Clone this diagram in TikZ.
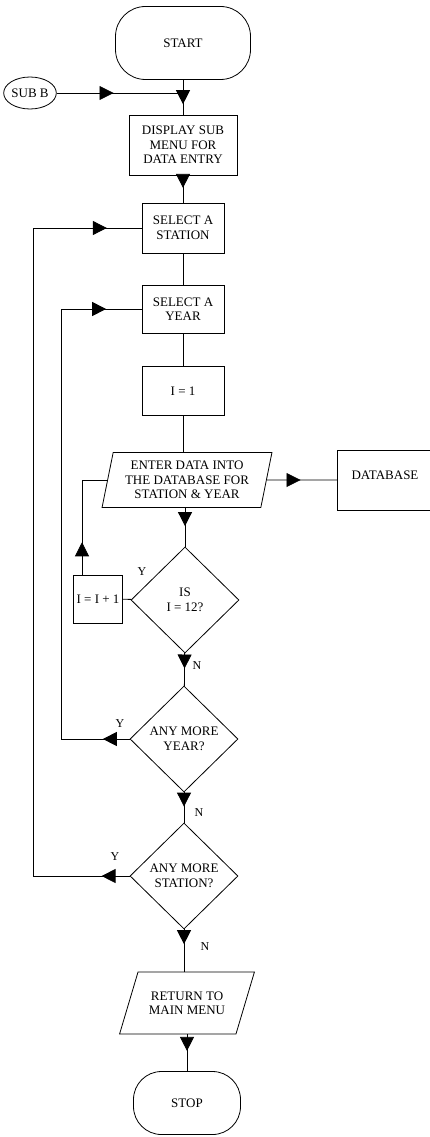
\documentclass[tikz,border=0pt]{standalone}
\usepackage{fontspec}
\setmainfont{Liberation Serif}
\usetikzlibrary{calc,shapes.geometric,arrows.meta,decorations.markings}
\tikzset{
  box/.style={draw, rectangle, align=center, minimum width=82pt, minimum height=49pt},
  term/.style={draw, rectangle, rounded corners=30pt, align=center},
  io/.style={draw, trapezium, trapezium stretches=true, align=center, inner sep=2pt},
  decision/.style={draw, diamond, aspect=1, align=center, inner sep=0pt, minimum width=108pt, minimum height=106pt},
  branch/.style={font=\fontsize{12}{14}\selectfont},
  midarrow/.style={postaction={decorate}, decoration={markings, mark=at position #1 with {\arrow{Triangle[length=14pt,width=14pt]}}}},
  midarrow/.default=0.5
}

\begin{document}
\begin{tikzpicture}[x=1pt, y=-1pt, line width=0.8pt, every node/.style={font=\fontsize{13}{14.5}\selectfont}]
  \useasboundingbox (0,0) rectangle (430,1137);
  \node[term, minimum width=135pt, minimum height=73pt] (start) at (183,43) {START};
  \node[draw, ellipse, inner sep=0pt, minimum width=49pt, minimum height=32pt] (subb) at (30,93) {SUB B};
  \coordinate (join) at (183,93);
  \node[box, minimum width=108pt, minimum height=60pt] (disp) at (183,145) {DISPLAY SUB\\MENU FOR\\DATA ENTRY};
  \node[box, minimum height=50pt] (selstn) at (183,228) {SELECT A\\STATION};
  \node[box, minimum height=48pt] (selyr) at (183,309) {SELECT A\\YEAR};
  \node[box] (ione) at (183,391) {I = 1};
  \node[io, trapezium left angle=77, trapezium right angle=103, minimum width=170pt, minimum height=55pt] (enter) at (187,480) {ENTER DATA INTO\\THE DATABASE FOR\\STATION \& YEAR};
  \node[box, minimum width=95pt, minimum height=60pt, text depth=10pt] (db) at (385,480) {DATABASE};
  \node[decision] (isq) at (185,600) {IS\\I = 12?};
  \node[box, inner sep=1pt, minimum width=49pt, minimum height=48pt] (incr) at (98,599) {I = I + 1};
  \node[decision] (qyr) at (184,739) {ANY MORE\\YEAR?};
  \node[decision] (qstn) at (184,876) {ANY MORE\\STATION?};
  \node[io, trapezium left angle=61, trapezium right angle=119, minimum width=135pt, minimum height=62pt] (ret) at (187,1003) {RETURN TO\\MAIN MENU};
  \node[term, rounded corners=28pt, minimum width=107pt, minimum height=63pt] (stop) at (187,1103) {STOP};
  \coordinate (outer) at (33,0);
  \coordinate (inner) at (61,0);
  \coordinate (loopi) at (82,0);

  \draw[midarrow=0.7] (start) -- (disp);
  \draw[midarrow=0.45] (subb) -- (join);
  \draw[midarrow=0.46] (disp) -- (selstn);
  \draw (selstn) -- (selyr);
  \draw (selyr) -- (ione);
  \draw (ione) -- (ione |- enter.north);
  \draw[midarrow=0.48] (enter) -- (db);
  \draw[midarrow=0.47] (isq |- enter.south) -- (isq);
  \draw (isq) -- (incr);
  \draw[midarrow=0.27] (incr.north -| loopi) -- (loopi |- enter.west) -- (enter.west);
  \draw[midarrow=0.47] (isq) -- (qyr);
  \draw[midarrow=0.47] (qyr) -- (qstn);
  \draw[midarrow=0.35] (qstn) -- (qstn |- ret.north);
  \draw[midarrow=0.45] (ret |- ret.south) -- (stop);

  \draw[midarrow=0.39] (qyr.west) -- (qyr.west -| inner);
  \draw (qyr.west -| inner) -- (inner |- selyr.west);
  \draw[midarrow=0.56] (inner |- selyr.west) -- (selyr.west);
  \draw[midarrow=0.29] (qstn.west) -- (qstn.west -| outer);
  \draw (qstn.west -| outer) -- (outer |- selstn.west);
  \draw[midarrow=0.68] (outer |- selstn.west) -- (selstn.west);

  \node[branch] (yis) at (142,572) {Y};
  \node[branch] (nis) at (197,666) {N};
  \node[branch] (yyr) at (120,724) {Y};
  \node[branch] (nyr) at (199,813) {N};
  \node[branch] (ystn) at (115,857) {Y};
  \node[branch] (nstn) at (205,947) {N};
\end{tikzpicture}
\end{document}
